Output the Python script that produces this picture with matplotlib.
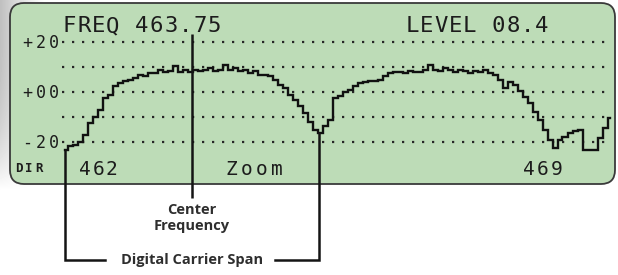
import numpy as np
import matplotlib
matplotlib.use("Agg")
import matplotlib.pyplot as plt
from matplotlib.patches import FancyBboxPatch

# ---------------- data ----------------
freq_start, freq_stop = 462.0, 469.5          # MHz across the trace
level_db = [
    -23, -21.5, -21, -20, -17, -12.5, -10, -7, -2.5, -1,
    2.5, 3.5, 4.5, 5, 5.5, 7, 6.5, 7.5, 7.5, 9,
    8, 8.5, 10.5, 8, 9, 8, 9, 8.5, 9, 9.5,
    8.5, 9, 11, 9, 9.5, 8.5, 9, 7.5, 8.5, 7,
    7, 6.5, 5, 3, 1.5, -1, -3, -5.5, -8.5, -12,
    -15, -16.5, -13.5, -11, -2.5, -1.5, 0, 1, 2.5, 3.5,
    4, 4.5, 4.5, 5, 6.5, 7.5, 8, 8, 7.5, 8.5,
    8, 8, 9, 11, 9, 8.5, 9.5, 9, 8, 9,
    8.5, 7.5, 8.5, 8, 9, 7.5, 7, 5, 1.5, 4,
    3, 0.5, -2, -4.5, -8, -11, -15, -19, -22.5, -19,
    -18, -16.5, -15.5, -15, -23, -23, -23, -18.5, -14.5, -10.5,
]
freq = np.linspace(freq_start, freq_stop, len(level_db))

grid_levels = [20, 10, 0, -10, -20]
ytick_values = [20, 0, -20]
ytick_labels = ["+20", "+00", "-20"]

center_freq = 463.75
span_start, span_stop = 462.0, 465.5
header_left = "FREQ 463.75"
header_right = "LEVEL 08.4"
bottom_left = "462"
bottom_mid = "Zoom"
bottom_right = "469"
corner_label = "DIR"

# ---------------- figure ----------------
W, H = 618, 275
fig = plt.figure(figsize=(W / 100, H / 100), dpi=100)
fig.patch.set_facecolor("white")

bg = fig.add_axes([0, 0, 1, 1])
bg.set_xlim(0, W)
bg.set_ylim(H, 0)
bg.axis("off")

# soft grey photo fringe on the left
yy, xx = np.mgrid[0:190, 0:45]
shade = 1 - 0.25 * (1 - xx / 45.0) ** 1.2 * (1 - (yy / 190.0) ** 3)
bg.imshow(shade, extent=(0, 45, 190, 0), cmap="gray", vmin=0, vmax=1,
          aspect="auto", interpolation="bilinear", zorder=0)

panel = FancyBboxPatch((10, 3), 605, 181,
                       boxstyle="round,pad=0,rounding_size=14",
                       fc="#bddcb7", ec="#3a3a3a", lw=1.3, zorder=1)
bg.add_patch(panel)

# data axes: pixel x 60..615, pixel y 30..160
px_per_mhz = 545 / (freq_stop - freq_start)
ax = fig.add_axes([60 / W, 1 - 160 / H, 555 / W, 130 / H])
ax.patch.set_alpha(0)
ax.axis("off")
ax.set_xlim(freq_start - 5 / px_per_mhz, freq_start + 550 / px_per_mhz)
ax.set_ylim(-27.2, 24.8)

for lv in grid_levels:
    ax.axhline(lv, xmin=2 / 555, xmax=552 / 555, color="#262626", lw=1.6,
               dashes=(1, 3.5), dash_capstyle="butt")

ax.plot(freq, level_db, drawstyle="steps-mid", color="#111111", lw=1.7,
        solid_joinstyle="miter")

ink = "#141414"
# center-frequency marker
ax.plot([center_freq, center_freq], [23.4, -42.4], color=ink, lw=1.8,
        clip_on=False, solid_capstyle="butt")
# digital carrier span bracket
y_br = -67.2
start_level = level_db[0]
i_stop = int(np.argmin(np.abs(freq - span_stop)))
stop_level = min(level_db[i_stop - 1:i_stop + 2])
gap_l = span_start + 40 / px_per_mhz
gap_r = span_start + 210 / px_per_mhz
ax.plot([span_start, span_start, gap_l], [start_level, y_br, y_br],
        color=ink, lw=1.8, clip_on=False, solid_joinstyle="miter")
ax.plot([gap_r, span_stop, span_stop], [y_br, y_br, stop_level],
        color=ink, lw=1.8, clip_on=False, solid_joinstyle="miter")

note_font = dict(family=["Open Sans", "DejaVu Sans"], weight="bold",
                 color="#2e2e2e", fontsize=10.5)
ax.text(center_freq, -44.5, "Center\nFrequency", ha="center", va="top",
        linespacing=1.2, clip_on=False, **note_font)
ax.text(center_freq, y_br, "Digital Carrier Span", ha="center",
        va="center", clip_on=False, **note_font)

# ---------------- LCD text ----------------
lcd_color = "#1c1c1c"


def lcd(s, x0, base, pitch, size, weight="normal"):
    for k, ch in enumerate(s):
        if ch == " ":
            continue
        bg.text(x0 + pitch * (k + 0.5), base, ch, ha="center", va="baseline",
                fontsize=size, family="DejaVu Sans Mono", color=lcd_color,
                weight=weight, zorder=3)


lcd(header_left, 62, 32, 14.5, 16)
lcd(header_right, 405, 32, 14.4, 16)

for val, lab in zip(ytick_values, ytick_labels):
    ypix = H - ax.transData.transform((freq_start, val))[1]
    lcd(lab, 21, ypix + 6, 13.2, 12)

lcd(bottom_left, 78, 175, 13.5, 14)
lcd(bottom_mid, 224, 175, 15, 14)
lcd(bottom_right, 522, 175, 14, 14)
lcd(corner_label, 14, 172, 10, 9, weight="bold")

fig.savefig("out.png", dpi=100, facecolor="white")
